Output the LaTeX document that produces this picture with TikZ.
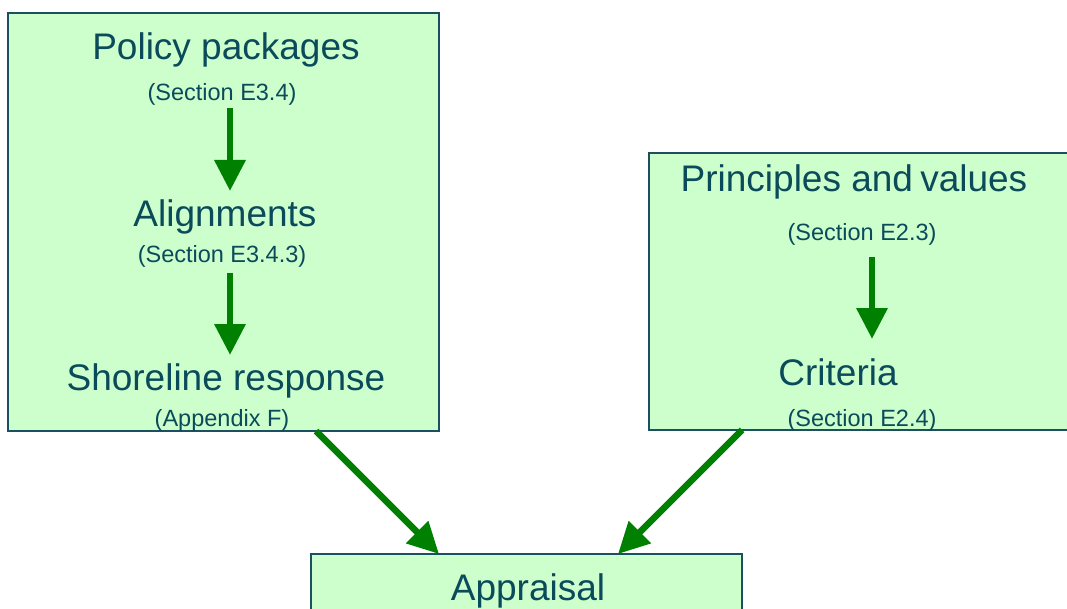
\documentclass[tikz,border=0pt]{standalone}
\usepackage{fontspec}
\setmainfont{Liberation Sans}
\usetikzlibrary{arrows.meta}
\definecolor{boxfill}{HTML}{CCFFCC}
\definecolor{boxline}{HTML}{1A5060}
\definecolor{txt}{HTML}{0A4A5A}
\definecolor{arrgreen}{HTML}{008000}
\tikzset{
  box/.style={draw=boxline, fill=boxfill, line width=1.3pt},
  big/.style={anchor=base, inner sep=0pt, text=txt, font=\fontsize{37}{44}\selectfont},
  small/.style={anchor=base, inner sep=0pt, text=txt, font=\fontsize{23.5}{28}\selectfont},
  arr/.style={draw=arrgreen, line width=6.5pt, -{Triangle[length=31pt,width=30pt]}, arrgreen},
}
\begin{document}
\begin{tikzpicture}[x=1pt,y=-1pt]
\useasboundingbox (0,0) rectangle (1067,609);
\clip (0,0) rectangle (1067,609);
\fill[white] (0,0) rectangle (1067,609);
% boxes
\draw[box] (8,13) rectangle (439,431);
\draw[box] (649,153) rectangle (1075,430);
\draw[box] (311,554) rectangle (742,640);
% left box texts
\node[big]   (pp) at (226,60)  {Policy packages};
\node[small] (s1) at (222,101) {(Section E3.4)};
\node[big]   (al) at (225,227) {Alignments};
\node[small] (s2) at (222,263) {(Section E3.4.3)};
\node[big]   (sr) at (226,390) {Shoreline response};
\node[small] (s3) at (222,426) {(Appendix F)};
% right box texts
\node[big]   (pv) at (854,192) {Principles and\hspace{-3pt} values};
\node[small] (s4) at (862,241) {(Section E2.3)};
\node[big]   (cr) at (838,385) {Criteria};
\node[small] (s5) at (862,426) {(Section E2.4)};
% bottom
\node[big]   (ap) at (528,600) {Appraisal};
% arrow end points
\coordinate (a1s) at (230,108);
\coordinate (a1e) at (230,191);
\coordinate (a2s) at (230,273);
\coordinate (a2e) at (230,355);
\coordinate (a3s) at (872,257);
\coordinate (a3e) at (872,339);
\coordinate (d1s) at (316,431);
\coordinate (d1e) at (439,554);
\coordinate (d2s) at (742,430);
\coordinate (d2e) at (618,554);
\draw[arr] (a1s) -- (a1e);
\draw[arr] (a2s) -- (a2e);
\draw[arr] (a3s) -- (a3e);
\draw[arr] (d1s) -- (d1e);
\draw[arr] (d2s) -- (d2e);
\end{tikzpicture}
\end{document}
